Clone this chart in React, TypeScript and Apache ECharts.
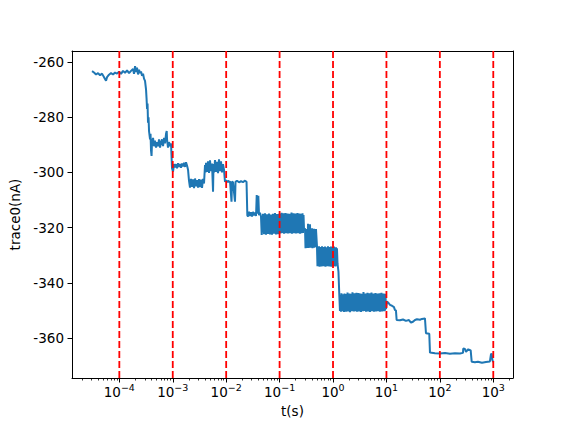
import React, { useEffect, useRef } from "react";
import * as echarts from "echarts";

// Trace, in segments: log10(time in s) and current in nA
const earlyExp = [
  -4.511, -4.474, -4.436, -4.399, -4.361, -4.324, -4.286, -4.249, -4.23, -4.193,
  -4.155, -4.118, -4.08, -4.043, -4.006, -3.968, -3.931, -3.893, -3.856, -3.818,
  -3.781, -3.744, -3.725, -3.706, -3.687, -3.669, -3.65, -3.631, -3.613, -3.594,
  -3.575, -3.556, -3.538, -3.519, -3.5, -3.491, -3.481, -3.472, -3.463, -3.453,
  -3.444, -3.425, -3.416, -3.407, -3.397, -3.388, -3.369, -3.351, -3.332, -3.313,
  -3.294, -3.276, -3.257, -3.238, -3.219, -3.201, -3.182, -3.163, -3.145, -3.126,
  -3.113, -3.107, -3.089, -3.07, -3.051, -3.032, -3.019, -3.014, -2.995, -2.976,
  -2.957, -2.939, -2.92, -2.901, -2.883, -2.864, -2.845, -2.827, -2.808, -2.789,
  -2.77, -2.752, -2.733, -2.714, -2.696, -2.677, -2.658, -2.639, -2.621, -2.602,
  -2.583, -2.565, -2.546, -2.527, -2.508, -2.49, -2.471, -2.452, -2.434, -2.415,
  -2.396, -2.387, -2.377, -2.359, -2.34, -2.321, -2.303, -2.284, -2.265, -2.246,
  -2.237, -2.228, -2.209, -2.19, -2.172, -2.153, -2.134, -2.115, -2.097, -2.078,
  -2.059, -2.041, -2.022, -2.003, -1.984, -1.966, -1.947, -1.928, -1.9, -1.891,
  -1.872, -1.835, -1.825, -1.797, -1.76, -1.722, -1.685, -1.647, -1.619, -1.604,
  -1.591, -1.573, -1.554, -1.535, -1.516, -1.498, -1.479, -1.46, -1.441, -1.428,
  -1.417, -1.398, -1.385, -1.367, -1.348, -1.335, -1.31, -1.292, -1.273, -1.254,
  -1.236, -1.217, -1.198, -1.179, -1.161, -1.142, -1.123, -1.105, -1.086, -1.067,
  -1.048, -1.03, -1.011,
];
const earlyCur = [
  -263.3, -263.8, -264.5, -264.0, -264.8, -264.2, -265.5, -266.8, -265.5, -264.6,
  -264.0, -264.5, -263.8, -264.2, -263.5, -264.3, -263.2, -263.9, -263.0, -264.0,
  -263.2, -262.5, -264.3, -261.5, -263.6, -262.0, -264.5, -262.8, -264.0, -263.4,
  -265.0, -264.2, -266.0, -266.8, -270.0, -273.0, -277.0, -275.0, -282.0, -280.0,
  -285.0, -288.0, -286.0, -292.0, -294.0, -289.0, -287.5, -290.5, -288.5, -291.0,
  -289.0, -290.5, -288.0, -291.0, -289.0, -288.0, -290.5, -287.5, -289.5, -286.0,
  -285.0, -288.0, -291.0, -289.0, -290.5, -289.5, -296.0, -298.5, -299.7, -297.0,
  -298.2, -297.0, -298.5, -296.7, -298.0, -297.0, -298.3, -296.8, -297.8, -296.5,
  -298.0, -296.3, -297.5, -299.0, -303.0, -305.5, -302.3, -305.2, -302.5, -305.7,
  -302.2, -305.0, -302.8, -305.5, -302.4, -305.3, -302.6, -305.6, -302.3, -304.0,
  -297.3, -300.0, -296.5, -299.8, -296.0, -300.2, -295.6, -299.5, -296.8, -307.0,
  -297.0, -300.0, -295.5, -299.8, -296.2, -300.3, -295.3, -299.5, -296.0, -300.0,
  -297.0, -299.0, -303.4, -302.8, -303.6, -303.0, -303.5, -303.2, -310.6, -303.3,
  -303.6, -310.6, -303.4, -303.0, -303.6, -303.2, -303.5, -303.0, -303.4, -315.5,
  -316.0, -314.2, -315.8, -314.4, -316.0, -314.3, -315.6, -314.5, -315.8, -308.2,
  -315.0, -308.5, -315.5, -314.6, -316.0, -322.7, -315.0, -322.4, -314.8, -322.6,
  -315.2, -322.3, -314.9, -322.5, -315.3, -322.6, -315.0, -322.2, -314.7, -322.5,
  -315.1, -322.4, -315.0,
];

// band between 10^-1 and ~0.28 s
const band1Exp = [
  -0.992, -0.983, -0.974, -0.964, -0.955, -0.945, -0.936, -0.927, -0.917, -0.908,
  -0.899, -0.889, -0.88, -0.871, -0.861, -0.852, -0.843, -0.833, -0.824, -0.814,
  -0.805, -0.796, -0.786, -0.777, -0.768, -0.758, -0.749, -0.74, -0.73, -0.721,
  -0.712, -0.702, -0.693, -0.683, -0.674, -0.665, -0.655, -0.646, -0.637, -0.627,
  -0.618, -0.609, -0.599, -0.59, -0.581, -0.571, -0.562, -0.552, -0.543,
];
const band1Cur = [
  -322.1, -315.0, -321.8, -314.6, -322.0, -315.2, -321.9, -314.8, -322.2, -315.1,
  -321.7, -314.7, -322.0, -315.3, -321.8, -314.9, -322.1, -315.0, -321.9, -315.2,
  -322.0, -315.0, -321.8, -314.5, -322.2, -315.1, -321.9, -314.8, -322.0, -315.3,
  -321.7, -314.9, -322.1, -315.0, -321.8, -314.7, -322.0, -315.2, -321.9, -314.9,
  -322.2, -315.1, -321.8, -315.0, -322.0, -314.8, -321.9, -315.4, -320.5,
];

// band ~0.3 s to ~0.5 s
const band2Exp = [
  -0.524, -0.515, -0.506, -0.496, -0.487, -0.477, -0.468, -0.459, -0.45, -0.44,
  -0.431, -0.421, -0.412, -0.403, -0.393, -0.384, -0.375, -0.365, -0.356, -0.347,
  -0.337, -0.328, -0.319,
];
const band2Cur = [
  -320.3, -327.5, -320.5, -327.2, -320.8, -327.4, -318.6, -327.4, -320.4, -327.1,
  -318.8, -327.3, -320.6, -327.0, -320.2, -327.5, -320.7, -327.2, -320.4, -327.3,
  -320.6, -327.0, -320.5,
];

// band ~0.5 s to ~1.2 s, then the drop
const band3Exp = [
  -0.3, -0.291, -0.281, -0.272, -0.262, -0.253, -0.244, -0.234, -0.225, -0.216,
  -0.206, -0.197, -0.188, -0.178, -0.169, -0.159, -0.15, -0.141, -0.131, -0.122,
  -0.113, -0.103, -0.094, -0.085, -0.075, -0.066, -0.057, -0.047, -0.038, -0.029,
  -0.019, -0.01, -0.001, 0.009, 0.018, 0.027, 0.037, 0.046, 0.056, 0.065,
  0.074, 0.084, 0.102, 0.117,
];
const band3Cur = [
  -326.9, -334.0, -327.2, -333.8, -326.8, -334.2, -327.4, -333.6, -327.0, -334.1,
  -326.8, -333.9, -327.3, -334.0, -327.0, -333.7, -326.9, -334.2, -327.2, -333.8,
  -327.1, -334.0, -326.8, -333.9, -327.3, -334.1, -327.0, -333.7, -326.9, -334.2,
  -327.2, -333.8, -327.0, -334.0, -326.9, -333.9, -327.3, -334.1, -327.1, -333.8,
  -327.5, -333.0, -336.0, -344.0,
];

// band between 10^0 and 10^1
const band4Exp = [
  0.13, 0.139, 0.149, 0.158, 0.168, 0.177, 0.187, 0.196, 0.205, 0.215,
  0.224, 0.233, 0.243, 0.252, 0.261, 0.271, 0.28, 0.29, 0.299, 0.308,
  0.318, 0.327, 0.336, 0.346, 0.355, 0.364, 0.374, 0.383, 0.392, 0.402,
  0.411, 0.421, 0.43, 0.439, 0.449, 0.458, 0.467, 0.477, 0.486, 0.495,
  0.505, 0.514, 0.523, 0.533, 0.542, 0.552, 0.561, 0.57, 0.58, 0.589,
  0.598, 0.608, 0.617, 0.626, 0.636, 0.645, 0.654, 0.664, 0.673, 0.683,
  0.692, 0.701, 0.711, 0.72, 0.729, 0.739, 0.748, 0.757, 0.767, 0.776,
  0.785, 0.795, 0.804, 0.814, 0.823, 0.832, 0.842, 0.851, 0.86, 0.87,
  0.879, 0.888, 0.898, 0.907, 0.916, 0.926, 0.935, 0.945, 0.954, 0.963,
  0.973, 0.982, 0.991,
];
const band4Cur = [
  -350.2, -344.5, -350.5, -343.8, -350.0, -344.6, -350.3, -344.2, -350.6, -343.9,
  -350.0, -344.8, -350.5, -344.1, -350.2, -343.5, -350.4, -344.3, -350.1, -343.9,
  -350.7, -344.4, -350.2, -344.0, -350.3, -343.4, -350.0, -344.2, -350.4, -343.8,
  -350.1, -344.6, -350.3, -343.6, -350.5, -344.2, -350.0, -343.7, -350.4, -344.1,
  -350.2, -343.9, -350.6, -344.4, -350.1, -344.0, -350.3, -343.3, -350.2, -344.5,
  -350.0, -343.9, -350.5, -344.2, -350.1, -343.6, -350.4, -344.3, -350.2, -343.8,
  -350.6, -344.1, -350.0, -343.5, -350.3, -344.4, -350.1, -343.9, -350.5, -344.0,
  -350.2, -343.7, -350.4, -344.3, -350.0, -343.9, -350.3, -344.6, -350.1, -343.8,
  -350.5, -344.2, -350.2, -343.6, -350.4, -344.1, -350.0, -343.9, -350.3, -344.3,
  -350.1, -344.0, -349.5,
];

// late steps after 10^1
const lateExp = [
  1.01, 1.047, 1.066, 1.104, 1.141, 1.16, 1.178, 1.191, 1.253, 1.31,
  1.366, 1.422, 1.459, 1.497, 1.534, 1.572, 1.628, 1.665, 1.721, 1.74,
  1.802, 1.815, 1.909, 2.002, 2.096, 2.189, 2.283, 2.377, 2.433, 2.438,
  2.47, 2.489, 2.532, 2.577, 2.596, 2.657, 2.713, 2.788, 2.863, 2.937,
  2.956, 2.969, 2.984, 2.999,
];
const lateCur = [
  -346.8, -347.5, -348.0, -348.3, -348.8, -349.9, -350.0, -353.5, -353.6, -353.3,
  -353.8, -353.5, -354.4, -354.1, -353.5, -353.2, -353.4, -353.1, -352.9, -358.3,
  -358.5, -365.3, -365.5, -365.6, -365.4, -365.7, -365.5, -365.6, -365.4, -363.8,
  -364.0, -365.0, -364.1, -364.5, -368.6, -368.8, -368.6, -369.0, -368.7, -368.5,
  -366.0, -365.6, -368.0, -368.8,
];

const decadeTicks = [1e-4, 1e-3, 1e-2, 1e-1, 1, 10, 100, 1000];
const dashedLineTimes = [1e-4, 1e-3, 1e-2, 1e-1, 1, 10, 100, 1000];
const minorDecades = [1e-5, 1e-4, 1e-3, 1e-2, 1e-1, 1, 10, 100, 1000];
const minorMultipliers = [2, 3, 4, 5, 6, 7, 8, 9];
const yTicks = [-360, -340, -320, -300, -280, -260];

const X_MIN = 1.3e-5;
const X_MAX = 2340;
const Y_MIN = -374.5;
const Y_MAX = -256;

const FONT = "DejaVu Sans";
const FS = 13.5;

export default function App() {
  const ref = useRef<HTMLDivElement>(null);
  useEffect(() => {
    if (!ref.current) return;
    const chart = echarts.init(ref.current, undefined, { renderer: "svg" });
    const segments: [number[], number[]][] = [
      [earlyExp, earlyCur],
      [band1Exp, band1Cur],
      [band2Exp, band2Cur],
      [band3Exp, band3Cur],
      [band4Exp, band4Cur],
      [lateExp, lateCur],
    ];
    const data: number[][] = [];
    segments.forEach(([ex, cur]) => {
      const n = Math.min(ex.length, cur.length);
      for (let i = 0; i < n; i++) data.push([Math.pow(10, ex[i]), cur[i]]);
    });
    const minorTicks: number[] = [];
    minorDecades.forEach((d) =>
      minorMultipliers.forEach((m) => {
        const v = d * m;
        if (v > X_MIN && v < X_MAX) minorTicks.push(v);
      })
    );
    const tickColor = "#000";
    const dashedSeries = dashedLineTimes.map((t) => ({
      type: "line",
      xAxisIndex: 0,
      yAxisIndex: 0,
      data: [
        [t, Y_MIN],
        [t, Y_MAX],
      ],
      symbol: "none",
      showSymbol: false,
      silent: true,
      z: 3,
      lineStyle: { color: "#ff0000", type: [7, 3], width: 1.8 },
    }));
    chart.setOption({
      animation: false,
      backgroundColor: "#fff",
      grid: { left: 72, right: 57, top: 51, bottom: 48, containLabel: false },
      xAxis: [
        {
          type: "log",
          position: "bottom",
          min: X_MIN,
          max: X_MAX,
          axisLine: { show: true, onZero: false, lineStyle: { color: tickColor, width: 1 } },
          axisTick: { show: true, customValues: decadeTicks, length: 4.5, lineStyle: { color: tickColor, width: 1 } },
          axisLabel: {
            show: true,
            customValues: decadeTicks,
            margin: 4,
            formatter: (v: number) => {
              const ex = Math.round(Math.log10(v));
              const s = String(ex).replace("-", "\u2212");
              return `{b|10}{s|${s}}`;
            },
            rich: {
              b: { fontFamily: FONT, fontSize: FS, color: "#000" },
              s: { fontFamily: FONT, fontSize: 9.5, color: "#000", padding: [0, 0, 10, 0] },
            },
          },
          splitLine: { show: false },
          name: "t(s)",
          nameLocation: "middle",
          nameGap: 26,
          nameTextStyle: { fontFamily: FONT, fontSize: FS, color: "#000" },
        },
        {
          type: "log",
          position: "bottom",
          min: X_MIN,
          max: X_MAX,
          axisLine: { show: false, onZero: false },
          axisTick: { show: true, customValues: minorTicks, length: 2.5, lineStyle: { color: tickColor, width: 0.8 } },
          axisLabel: { show: false },
          splitLine: { show: false },
        },
        {
          type: "log",
          position: "top",
          min: X_MIN,
          max: X_MAX,
          axisLine: { show: true, onZero: false, lineStyle: { color: tickColor, width: 1 } },
          axisTick: { show: false },
          axisLabel: { show: false },
          splitLine: { show: false },
        },
      ],
      yAxis: [
        {
          type: "value",
          position: "left",
          min: Y_MIN,
          max: Y_MAX,
          axisLine: { show: true, onZero: false, lineStyle: { color: tickColor, width: 1 } },
          axisTick: { show: true, customValues: yTicks, length: 4.5, lineStyle: { color: tickColor, width: 1 } },
          axisLabel: {
            show: true,
            customValues: yTicks,
            margin: 8,
            fontFamily: FONT,
            fontSize: FS,
            color: "#000",
            formatter: (v: number) => String(v),
          },
          splitLine: { show: false },
          name: "trace0(nA)",
          nameLocation: "middle",
          nameGap: 46,
          nameRotate: 90,
          nameTextStyle: { fontFamily: FONT, fontSize: FS, color: "#000" },
        },
        {
          type: "value",
          position: "right",
          min: Y_MIN,
          max: Y_MAX,
          axisLine: { show: true, onZero: false, lineStyle: { color: tickColor, width: 1 } },
          axisTick: { show: false },
          axisLabel: { show: false },
          splitLine: { show: false },
        },
      ],
      series: [
        {
          type: "line",
          xAxisIndex: 0,
          yAxisIndex: 0,
          data,
          showSymbol: false,
          symbol: "none",
          z: 2,
          lineStyle: { color: "#1f77b4", width: 2 },
          itemStyle: { color: "#1f77b4" },
        },
        ...dashedSeries,
      ],
    });
    return () => chart.dispose();
  }, []);
  return (
    <div
      ref={ref}
      style={{ position: "fixed", left: 0, top: 0, width: 570, height: 426 }}
    />
  );
}
